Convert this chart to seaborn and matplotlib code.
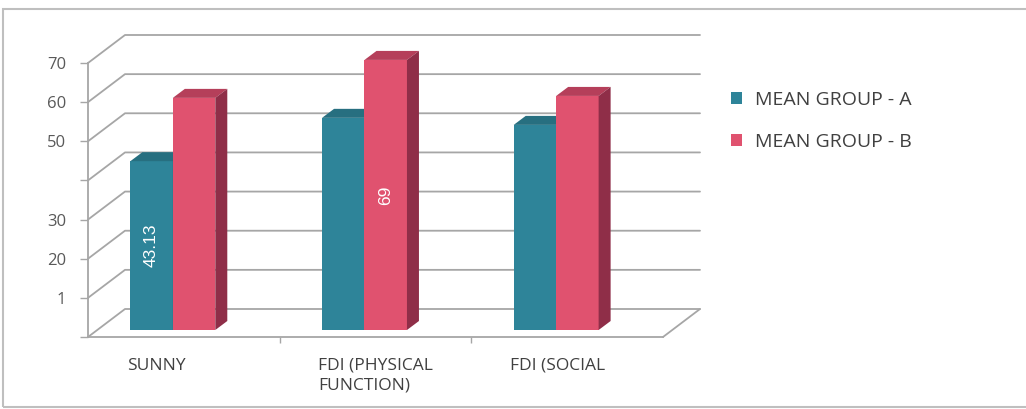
import numpy as np
import pandas as pd
import matplotlib
matplotlib.use("Agg")
import matplotlib.pyplot as plt
import seaborn as sns
from matplotlib.transforms import offset_copy, IdentityTransform
from matplotlib.patches import Polygon, Rectangle
from matplotlib.lines import Line2D

# ---------------- data ----------------
categories = ["SUNNY", "FDI (PHYSICAL\nFUNCTION)", "FDI (SOCIAL"]
series_names = ["MEAN GROUP - A", "MEAN GROUP - B"]
group_a = [43.13, 54.2, 52.4]
group_b = [59.3, 69.0, 59.8]
labels_a = ["43.13", "", ""]
labels_b = ["", "69", ""]
y_ticks = [0, 10, 20, 30, 40, 50, 60, 70]
y_tick_labels = ["", "1", "20", "30", "", "50", "60", "70"]

# ---------------- style ----------------
W, H, DPI = 1026, 409, 100
sns.set_style("white")
plt.rcParams["font.family"] = ["Open Sans", "DejaVu Sans"]

teal, pink = "#2E8499", "#E0526F"
side_cols = ["#22687A", "#8F2E48"]
top_cols = ["#276F80", "#B53F5A"]
grid_color = "#A6A6A6"
text_color = "#404040"

fig = plt.figure(figsize=(W / DPI, H / DPI), dpi=DPI)
ax = fig.add_axes([88 / W, 72 / H, 575 / W, 274 / H])

df = pd.DataFrame({
    "category": categories * 2,
    "group": [series_names[0]] * len(categories) + [series_names[1]] * len(categories),
    "value": group_a + group_b,
})

sns.barplot(data=df, x="category", y="value", hue="group", order=categories,
            hue_order=series_names, palette=[teal, pink], saturation=1,
            width=0.443, gap=0, errorbar=None, linewidth=0, ax=ax)
ax.set_xlim(-0.5, len(categories) - 0.5)
ax.set_ylim(0, 70)
ax.set_xlabel("")
ax.set_ylabel("")

# ---------------- pseudo 3D walls ----------------
wall = np.array([37.0, 28.0])
ident = IdentityTransform()
yt = ax.get_yaxis_transform()
xt = ax.get_xaxis_transform()
for v in y_ticks:
    pf = yt.transform((0, v))
    pbl = pf + wall
    pbr = yt.transform((1, v)) + wall
    pts = np.array([pf, pbl, pbr])
    ax.add_line(Line2D(pts[:, 0], pts[:, 1], transform=ident, color=grid_color,
                       lw=1.3, clip_on=False, zorder=1))
# floor right edge
fr = yt.transform((1, 0))
pts = np.array([fr, fr + wall])
ax.add_line(Line2D(pts[:, 0], pts[:, 1], transform=ident, color=grid_color,
                   lw=1.3, clip_on=False, zorder=1))

# ---------------- 3D bars ----------------
bar_tr = offset_copy(ax.transData, fig=fig, x=-11, y=7, units="dots")
depth = np.array([12.0, 9.0])
all_labels = [labels_a, labels_b]
for i, cont in enumerate(ax.containers):
    for j, p in enumerate(cont.patches):
        p.set_transform(bar_tr)
        p.set_zorder(3 + 2 * i)
        p.set_clip_on(False)
        x0, y0, w, h = p.get_x(), p.get_y(), p.get_width(), p.get_height()
        bl, br, tr, tl = bar_tr.transform([(x0, y0), (x0 + w, y0), (x0 + w, y0 + h), (x0, y0 + h)])
        top = Polygon([tl, tr, tr + depth, tl + depth], closed=True, transform=ident,
                      facecolor=top_cols[i], edgecolor="none", clip_on=False, zorder=3 + 2 * i)
        side = Polygon([br, tr, tr + depth, br + depth], closed=True, transform=ident,
                       facecolor=side_cols[i], edgecolor="none", clip_on=False, zorder=3 + 2 * i)
        ax.add_patch(top)
        ax.add_patch(side)
        lab = all_labels[i][j]
        if lab:
            ax.text(x0 + w / 2, y0 + h / 2, lab, transform=bar_tr, rotation=90,
                    ha="center", va="center", color="white", fontsize=12.5,
                    family=["Liberation Sans Narrow", "Liberation Sans", "DejaVu Sans"],
                    zorder=20, clip_on=False)

# ---------------- axes ----------------
for s in ["top", "right"]:
    ax.spines[s].set_visible(False)
for s in ["left", "bottom"]:
    ax.spines[s].set_color(grid_color)
    ax.spines[s].set_linewidth(1.3)

ax.set_yticks(y_ticks, y_tick_labels)
ax.tick_params(axis="y", left=True, length=5.8, width=1.0, color=grid_color,
               labelcolor="#595959", labelsize=12, pad=10)

ax.set_xticks([k + 0.5 for k in range(len(categories) - 1)], [""] * (len(categories) - 1))
ax.tick_params(axis="x", bottom=True, length=4.5, width=1.0, color=grid_color)

lab_tr = offset_copy(xt, fig=fig, x=-57, y=-21, units="dots")
for k, c in enumerate(categories):
    ax.text(k, 0, c, transform=lab_tr, ha="left", va="top", fontsize=12.5,
            color=text_color, linespacing=1.25, clip_on=False)

# ---------------- legend ----------------
leg = ax.get_legend()
handles = leg.legend_handles
labels = [t.get_text() for t in leg.get_texts()]
ax.legend(handles, labels, loc="center left", bbox_to_anchor=(731 / W, 1 - 121 / H),
          bbox_transform=fig.transFigure, frameon=False, fontsize=14,
          handlelength=0.55, handleheight=0.55, handletextpad=0.7, labelspacing=1.25,
          borderpad=0, borderaxespad=0, labelcolor=text_color)

# outer frame (right side runs past the image edge)
fig.add_artist(Rectangle((3 / W, 2 / H), 1.2, (400 - 2) / H, transform=fig.transFigure,
                         fill=False, edgecolor="#BFBFBF", lw=1.5))

fig.savefig("out.png", dpi=DPI, facecolor="white")
